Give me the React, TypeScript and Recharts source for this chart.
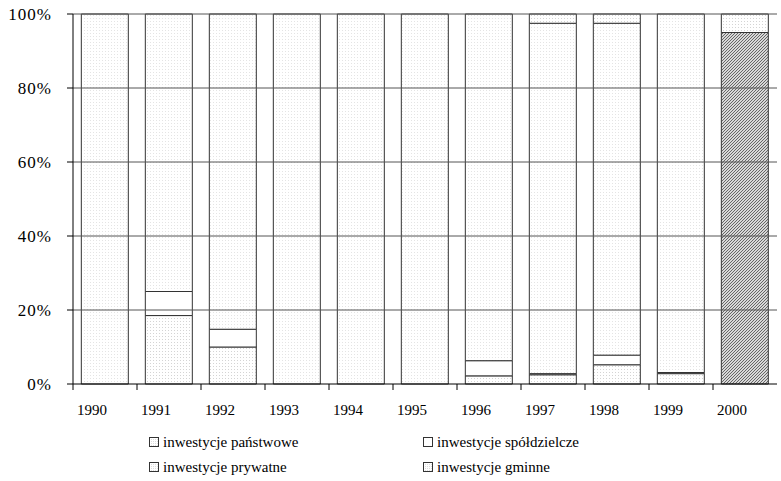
import { BarChart, Bar, XAxis, YAxis, ReferenceLine, Cell } from "recharts";

const years = ["1990", "1991", "1992", "1993", "1994", "1995", "1996", "1997", "1998", "1999", "2000"];
const panstwowe = [0, 18.5, 10, 0, 0, 0, 2.2, 2.5, 5.2, 2.8, 95];
const spoldzielcze = [0, 6.5, 4.8, 0, 0, 0, 4.1, 0.3, 2.6, 0.3, 0];
const prywatne = [100, 75, 85.2, 100, 100, 100, 93.7, 94.7, 89.7, 96.9, 0];
const gminne = [0, 0, 0, 0, 0, 0, 0, 2.5, 2.5, 0, 5];
const yTicks = [0, 20, 40, 60, 80, 100];

const data = years.map((year, i) => ({
    year,
    panstwowe: panstwowe[i],
    spoldzielcze: spoldzielcze[i],
    prywatne: prywatne[i],
    gminne: gminne[i],
}));

const FONT = '"Liberation Serif", "Times New Roman", Tinos, "DejaVu Serif", serif';
const BAND = 64;

const YearTick = (props: any) => {
    const { x, y, payload } = props;
    return (
        <g>
            <line x1={x - BAND / 2} x2={x - BAND / 2} y1={y} y2={y + 6} stroke="#000" />
            <text
                x={x - 13}
                y={y + 31}
                textAnchor="middle"
                style={{ fontFamily: FONT, fontSize: 15 }}
                fill="#000"
            >
                {payload.value}
            </text>
        </g>
    );
};

const legendItems = [
    { label: "inwestycje państwowe", fill: "url(#dotsLightBox)", left: 149, top: 442 },
    { label: "inwestycje spółdzielcze", fill: "#fff", left: 423, top: 442 },
    { label: "inwestycje prywatne", fill: "url(#dotsLightBox)", left: 149, top: 467 },
    { label: "inwestycje gminne", fill: "url(#dotsLightBox)", left: 423, top: 467 },
];

const App = () => {
    return (
        <div
            style={{
                position: "absolute",
                left: 0,
                top: 0,
                width: 781,
                height: 481,
                background: "#fff",
                fontFamily: FONT,
            }}
        >
            <BarChart
                width={781}
                height={481}
                data={data}
                margin={{ top: 14, right: 4, left: 0, bottom: 67 }}
                barCategoryGap="13%"
                style={{ fontFamily: FONT }}
            >
                <defs>
                    <pattern id="dots" width="3" height="3" patternUnits="userSpaceOnUse">
                        <rect width="3" height="3" fill="#fff" />
                        <rect width="1" height="1" fill="#d4d4d4" />
                    </pattern>
                    <pattern id="dotsLight" width="3" height="3" patternUnits="userSpaceOnUse">
                        <rect width="3" height="3" fill="#fff" />
                        <rect width="1" height="1" fill="#e4e4e4" />
                    </pattern>
                    <pattern id="hatch" width="3" height="3" patternUnits="userSpaceOnUse">
                        <rect width="3" height="3" fill="#d8d8d8" />
                        <path d="M-1,1 l2,-2 M0,3 l3,-3 M2,4 l2,-2" stroke="#666" strokeWidth="1" />
                    </pattern>
                </defs>
                <XAxis
                    dataKey="year"
                    height={30}
                    axisLine={{ stroke: "#000" }}
                    tickLine={false}
                    tickSize={0}
                    tickMargin={0}
                    tick={<YearTick />}
                    interval={0}
                />
                <YAxis
                    domain={[0, 100]}
                    ticks={yTicks}
                    tickFormatter={(v) => `${v}%`}
                    width={73}
                    axisLine={{ stroke: "#000" }}
                    tickLine={{ stroke: "#000" }}
                    tickSize={6}
                    tickMargin={15}
                    tick={{ fontSize: 17, fill: "#000", fontFamily: FONT, letterSpacing: 1 }}
                />
                <Bar dataKey="panstwowe" stackId="a" fill="url(#dots)" stroke="#333" strokeWidth={1} isAnimationActive={false}>
                    {data.map((d) => (
                        <Cell key={d.year} fill={d.year === "2000" ? "url(#hatch)" : "url(#dots)"} />
                    ))}
                </Bar>
                <Bar dataKey="spoldzielcze" stackId="a" fill="#fff" stroke="#333" strokeWidth={1} isAnimationActive={false} />
                <Bar dataKey="prywatne" stackId="a" fill="url(#dotsLight)" stroke="#333" strokeWidth={1} isAnimationActive={false} />
                <Bar dataKey="gminne" stackId="a" fill="url(#dots)" stroke="#333" strokeWidth={1} isAnimationActive={false} />
                {yTicks.slice(1).map((t) => (
                    <ReferenceLine key={t} y={t} stroke="#555" strokeWidth={1} />
                ))}
            </BarChart>

            <svg width={0} height={0} style={{ position: "absolute" }}>
                <defs>
                    <pattern id="dotsLightBox" width="2" height="2" patternUnits="userSpaceOnUse">
                        <rect width="2" height="2" fill="#fff" />
                        <rect width="1" height="1" fill="#ddd" />
                    </pattern>
                </defs>
            </svg>

            {legendItems.map((item) => (
                <div
                    key={item.label}
                    style={{
                        position: "absolute",
                        left: item.left,
                        top: item.top - 11,
                        height: 22,
                        display: "flex",
                        alignItems: "center",
                        fontSize: 15,
                        color: "#000",
                        whiteSpace: "nowrap",
                    }}
                >
                    <svg width={10} height={10} style={{ marginRight: 4 }}>
                        <rect x={0.5} y={0.5} width={9} height={9} fill={item.fill} stroke="#333" />
                    </svg>
                    {item.label}
                </div>
            ))}
        </div>
    );
};

export default App;
